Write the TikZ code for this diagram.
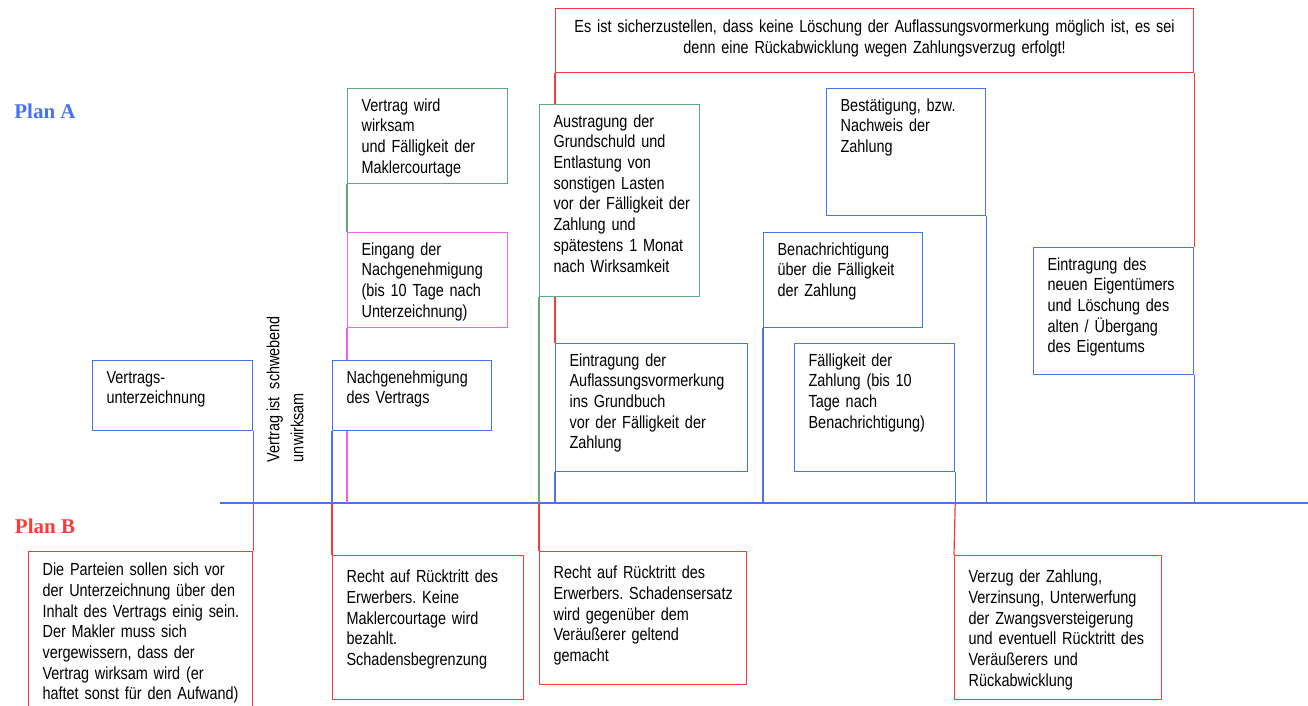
\documentclass[tikz,border=0pt]{standalone}
\usepackage{fontspec}
\setmainfont{Liberation Sans}[FakeStretch=0.825]
\newfontfamily\planfont{Liberation Serif}
\usetikzlibrary{backgrounds}
\definecolor{planblue}{RGB}{70,115,240}
\definecolor{planred}{RGB}{245,60,60}
\definecolor{boxgreen}{RGB}{95,170,130}
\definecolor{boxmagenta}{RGB}{245,95,240}
\frenchspacing

\begin{document}
\begin{tikzpicture}[x=1pt,y=-1pt,
  box/.style={draw=#1,fill=white,line width=1.2pt,anchor=north west,
    inner xsep=14pt,inner ysep=0pt,align=left,text height=22.5,
    font=\fontsize{17.5}{20.7}\selectfont,
    execute at begin node={\rightskip=0pt plus 1fil minus 40pt}},
  boxsize/.style 2 args={text width=#1-28,text depth=#2-22.5},
  link/.style={draw=#1,line width=1.2pt},
  plan/.style={font=\planfont\bfseries\fontsize{21}{24}\selectfont}
]
  \useasboundingbox (0,0) rectangle (1308,705);
  \node[plan,text=planblue] (plana) at (45,111) {Plan A};
  \node[plan,text=planred] (planb) at (45,526) {Plan B};

  % Plan A
  \node[box=planblue,boxsize={160}{70}] (vu) at (92,360) {Vertrags-\\unterzeichnung};
  \node[rotate=90,align=left,font=\fontsize{17.5}{24}\selectfont] (sw) at (285,389)
    {Vertrag ist\ \ schwebend\\unwirksam};
  \node[box=planblue,boxsize={159}{70}] (ng) at (332,360) {Nachgenehmigung\\des Vertrags};
  \node[box=boxmagenta,boxsize={160}{95}] (eg) at (347,232)
    {Eingang der\\Nachgenehmigung\\(bis 10 Tage nach\\Unterzeichnung)};
  \node[box=boxgreen,boxsize={160}{95}] (vw) at (347,88)
    {Vertrag wird\\wirksam\\und Fälligkeit der\\Maklercourtage};
  \node[box=planred,boxsize={638}{62.5},text height=24,
    execute at begin node={\leftskip=0pt plus 1fil\rightskip=0pt plus 1fil\parfillskip=0pt}] (hint) at (555,8)
    {Es ist sicherzustellen, dass keine Löschung der Auflassungsvormerkung möglich ist, es sei\\denn eine Rückabwicklung wegen Zahlungsverzug erfolgt!};
  \node[box=boxgreen,boxsize={160}{192}] (au) at (539,104)
    {Austragung der\\Grundschuld und\\Entlastung von\\sonstigen Lasten\\vor der Fälligkeit der\\Zahlung und\\spätestens 1 Monat\\nach Wirksamkeit};
  \node[box=planblue,boxsize={192}{128}] (ea) at (555,343)
    {Eintragung der\\Auflassungsvormerkung\\ins Grundbuch\\vor der Fälligkeit der\\Zahlung};
  \node[box=planblue,boxsize={159}{127}] (bn) at (826,88)
    {Bestätigung, bzw.\\Nachweis der\\Zahlung};
  \node[box=planblue,boxsize={159}{95}] (be) at (763,232)
    {Benachrichtigung\\über die Fälligkeit\\der Zahlung};
  \node[box=planblue,boxsize={160}{128}] (fz) at (794,343)
    {Fälligkeit der\\Zahlung (bis 10\\Tage nach\\Benachrichtigung)};
  \node[box=planblue,boxsize={160}{127}] (ee) at (1033,247)
    {Eintragung des\\neuen Eigentümers\\und Löschung des\\alten / Übergang\\des Eigentums};

  % Plan B
  \node[box=planred,boxsize={224}{170},text height=24] (b1) at (28,551)
    {Die Parteien sollen sich vor\\der Unterzeichnung über den\\Inhalt des Vertrags einig sein.\\Der Makler muss sich\\vergewissern, dass der\\Vertrag wirksam wird (er\\haftet sonst für den Aufwand)};
  \node[box=planred,boxsize={191}{139},text height=27] (b2) at (332,555)
    {Recht auf Rücktritt des\\Erwerbers. Keine\\Maklercourtage wird\\bezahlt.\\Schadensbegrenzung};
  \node[box=planred,boxsize={207}{128},text height=27] (b3) at (539,551)
    {Recht auf Rücktritt des\\Erwerbers. Schadensersatz\\wird gegenüber dem\\Veräußerer geltend\\gemacht};
  \node[box=planred,boxsize={207}{139},text height=27] (b4) at (954,555)
    {Verzug der Zahlung,\\Verzinsung, Unterwerfung\\der Zwangsversteigerung\\und eventuell Rücktritt des\\Veräußerers und\\Rückabwicklung};

  \begin{scope}[on background layer]
    \coordinate (tlw) at (220,503);
    \coordinate (tle) at (1308,503);
    \draw[link=planblue] (tlw) -- (tle);
    \draw[link=planblue] (vu.south east) -- (vu.south east |- tlw);
    \draw[link=planred] (vu.south east |- tlw) -- (b1.north east);
    \draw[link=planblue] (ng.south west) -- (ng.south west |- tlw);
    \draw[link=planred] (ng.south west |- tlw) -- (b2.north west);
    \draw[link=boxgreen] (vw.south west) -- (eg.north west);
    \draw[link=boxmagenta] (eg.south west) -- (eg.south west |- tlw);
    \draw[link=boxgreen] (au.south west) -- (au.south west |- tlw);
    \draw[link=planred] (au.south west |- tlw) -- (b3.north west);
    \draw[link=planred] (hint.south west) -- (ea.north west);
    \draw[link=planblue] (ea.south west) -- (ea.south west |- tlw);
    \draw[link=planred] (hint.south east) -- (ee.north east);
    \draw[link=planblue] (ee.south east) -- (ee.south east |- tlw);
    \draw[link=planblue] (bn.south east) -- (bn.south east |- tlw);
    \draw[link=planblue] (be.south west) -- (be.south west |- tlw);
    \draw[link=planblue] (fz.south east) -- (fz.south east |- tlw);
    \draw[link=planred] (fz.south east |- tlw) -- (b4.north west);
  \end{scope}
\end{tikzpicture}
\end{document}
